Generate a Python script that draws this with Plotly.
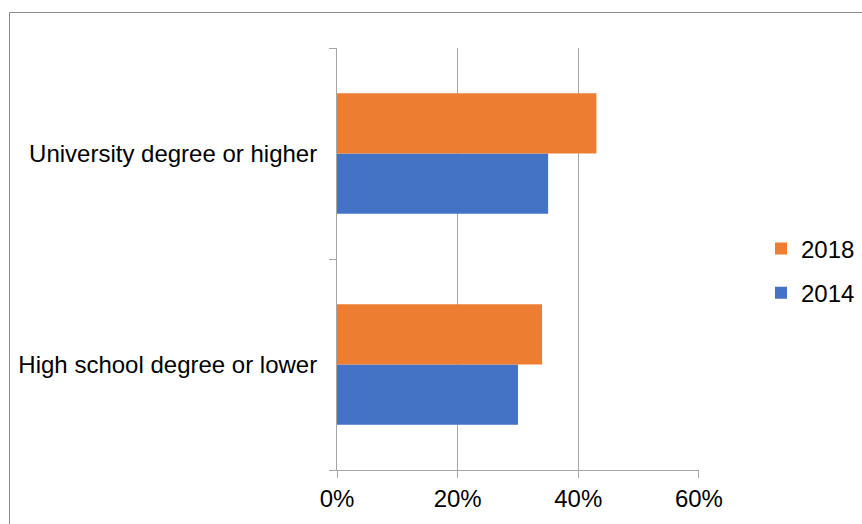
import plotly.graph_objects as go

categories = ["High school degree or lower", "University degree or higher"]
series_names = ["2014", "2018"]
values_2014 = [0.30, 0.35]
values_2018 = [0.34, 0.43]
colors = {"2014": "#4472C4", "2018": "#ED7D31"}
legend_rank = {"2014": 2, "2018": 1}
x_tickvals = [0, 0.2, 0.4, 0.6]
x_ticktext = ["0%", "20%", "40%", "60%"]

FONT = "Liberation Sans, Arial, sans-serif"
W, H = 862, 524
L, R, T, B = 337, 163, 48, 54
pw, ph = W - L - R, H - T - B

fig = go.Figure()
for name, vals, grp in [("2014", values_2014, "a"), ("2018", values_2018, "b")]:
    fig.add_trace(go.Bar(
        y=categories, x=vals, name=name, orientation="h",
        marker=dict(color=colors[name], line=dict(width=0)),
        legendgroup=grp, legendrank=legend_rank[name],
    ))

def px_x(px):
    return (px - L) / pw

def px_y(py):
    return (H - B - py) / ph

fig.update_layout(
    width=W, height=H,
    margin=dict(l=L, r=R, t=T, b=B, autoexpand=False),
    paper_bgcolor="white", plot_bgcolor="white",
    barmode="group", bargap=0.43, bargroupgap=0,
    font=dict(family=FONT, size=24, color="#000000"),
    showlegend=True,
    legend=dict(
        x=px_x(761), y=px_y(271), xanchor="left", yanchor="middle",
        traceorder="grouped", tracegroupgap=10,
        font=dict(family=FONT, size=24, color="#000000"),
        bgcolor="rgba(0,0,0,0)",
    ),
    xaxis=dict(
        range=[0, 0.6001], tickvals=x_tickvals, ticktext=x_ticktext,
        showgrid=True, gridcolor="#a6a6a6", gridwidth=1,
        showline=True, linecolor="#a6a6a6", linewidth=1,
        ticks="outside", ticklen=7, tickcolor="#a6a6a6",
        zeroline=False, fixedrange=True,
    ),
    yaxis=dict(
        type="category", categoryorder="array", categoryarray=categories,
        tickson="boundaries", ticks="outside", ticklen=7, tickcolor="#a6a6a6",
        showline=True, linecolor="#a6a6a6", linewidth=1,
        showgrid=False, zeroline=False, ticklabelstandoff=14,
        fixedrange=True,
    ),
    shapes=[dict(
        type="rect", xref="paper", yref="paper",
        x0=px_x(9.5), x1=px_x(900), y0=px_y(12.5), y1=px_y(560),
        line=dict(color="#8c8c8c", width=1), fillcolor="rgba(0,0,0,0)",
        layer="below",
    )],
)

fig.write_html("out.html")
